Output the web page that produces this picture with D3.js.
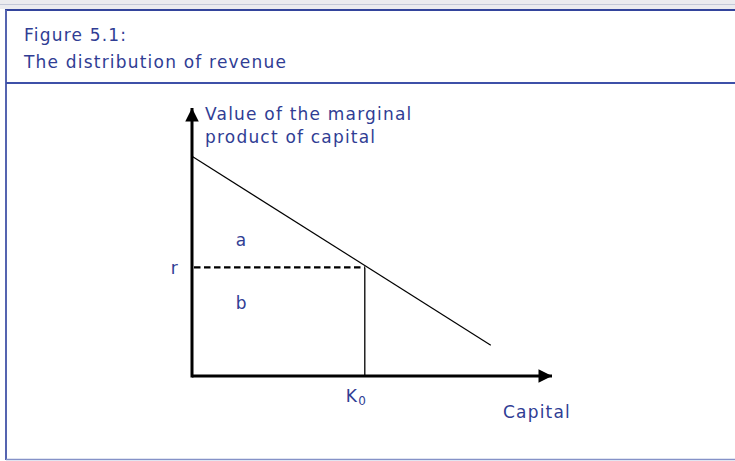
<!DOCTYPE html>
<html>
<head>
<meta charset="utf-8">
<script src="https://cdn.jsdelivr.net/npm/d3@7"></script>
<style>
  body { margin: 0; background: #fff; }
  text { font-family: "DejaVu Sans", Verdana, sans-serif; fill: #303d94; letter-spacing: 1.2px; }
</style>
</head>
<body>
<div id="chart"></div>
<script>
// curve of the value of the marginal product of capital (capital, value)
const mpkCurve = [
  {k: 0, v: 8.2},
  {k: 8.3, v: 1.15}
];
// equilibrium capital and return
const K0 = 4.8;
const rValue = 4.05;
const areaLabels = [
  {label: 'a', k: 1.38, v: 4.85},
  {label: 'b', k: 1.38, v: 2.5}
];
const titleLines = ['Figure 5.1:', 'The distribution of revenue'];
const yAxisTitle = ['Value of the marginal', 'product of capital'];
const xAxisTitle = 'Capital';

const width = 735, height = 461;
const svg = d3.select('#chart').append('svg')
    .attr('width', width)
    .attr('height', height);

// frame
svg.append('rect').attr('x', 0).attr('y', 0).attr('width', width).attr('height', 9).attr('fill', '#ebebef');
svg.append('line').attr('x1', 0).attr('x2', width).attr('y1', 4.5).attr('y2', 4.5).attr('stroke', '#c4c8d8');
svg.append('line').attr('x1', 5).attr('x2', width).attr('y1', 10).attr('y2', 10).attr('stroke', '#33449c').attr('stroke-width', 2);
svg.append('line').attr('x1', 6).attr('x2', 6).attr('y1', 10).attr('y2', 460).attr('stroke', '#5564b0').attr('stroke-width', 2);
svg.append('line').attr('x1', 6).attr('x2', width).attr('y1', 83).attr('y2', 83).attr('stroke', '#3d50a8').attr('stroke-width', 2);
svg.append('line').attr('x1', 6).attr('x2', width).attr('y1', 459.5).attr('y2', 459.5).attr('stroke', '#8592c8').attr('stroke-width', 1.5);

svg.selectAll('.title')
    .data(titleLines)
    .join('text')
    .attr('class', 'title')
    .attr('x', 24)
    .attr('y', (d, i) => 40.5 + i * 27)
    .style('font-size', '17px')
    .text(d => d);

// scales
const xScale = d3.scaleLinear().domain([0, 10]).range([192, 552]);
const yScale = d3.scaleLinear().domain([0, 10]).range([376, 108]);

const defs = svg.append('defs');
defs.append('marker')
    .attr('id', 'arrow')
    .attr('viewBox', '0 0 10 10')
    .attr('refX', 10).attr('refY', 5)
    .attr('markerWidth', 5).attr('markerHeight', 4.5)
    .attr('markerUnits', 'strokeWidth')
    .attr('orient', 'auto')
  .append('path')
    .attr('d', 'M0,0L10,5L0,10Z')
    .attr('fill', '#000');

const chart = svg.append('g');

// axes
chart.append('line')
    .attr('x1', xScale(0)).attr('y1', yScale(0))
    .attr('x2', xScale(10)).attr('y2', yScale(0))
    .attr('stroke', '#000').attr('stroke-width', 3)
    .attr('marker-end', 'url(#arrow)');
chart.append('line')
    .attr('x1', xScale(0)).attr('y1', yScale(0) + 1.5)
    .attr('x2', xScale(0)).attr('y2', yScale(10))
    .attr('stroke', '#000').attr('stroke-width', 3)
    .attr('marker-end', 'url(#arrow)');

// marginal product line
const line = d3.line().x(d => xScale(d.k)).y(d => yScale(d.v));
chart.append('path')
    .datum(mpkCurve)
    .attr('d', line)
    .attr('fill', 'none')
    .attr('stroke', '#000')
    .attr('stroke-width', 1.2);

// r dashed line and K0 vertical
chart.append('line')
    .attr('x1', xScale(0) + 2).attr('x2', xScale(K0))
    .attr('y1', yScale(rValue)).attr('y2', yScale(rValue))
    .attr('stroke', '#000').attr('stroke-width', 2.2)
    .attr('stroke-dasharray', '6.5,3.5');
chart.append('line')
    .attr('x1', xScale(K0)).attr('x2', xScale(K0))
    .attr('y1', yScale(rValue)).attr('y2', yScale(0))
    .attr('stroke', '#000').attr('stroke-width', 1.3);

// labels
chart.selectAll('.area-label')
    .data(areaLabels)
    .join('text')
    .attr('class', 'area-label')
    .attr('x', d => xScale(d.k))
    .attr('y', d => yScale(d.v))
    .attr('text-anchor', 'middle')
    .style('font-size', '17px')
    .text(d => d.label);

chart.append('text')
    .attr('x', xScale(0) - 13)
    .attr('y', yScale(rValue) + 7)
    .attr('text-anchor', 'end')
    .style('font-size', '17px')
    .text('r');

const k0Label = chart.append('text')
    .attr('x', xScale(K0) - 19)
    .attr('y', yScale(0) + 26)
    .style('font-size', '17px');
k0Label.append('tspan').text('K');
k0Label.append('tspan').attr('dy', 3).style('font-size', '12px').text('0');

chart.selectAll('.y-title')
    .data(yAxisTitle)
    .join('text')
    .attr('class', 'y-title')
    .attr('x', xScale(0) + 13)
    .attr('y', (d, i) => 120 + i * 23)
    .style('font-size', '17px')
    .text(d => d);

chart.append('text')
    .attr('x', 503)
    .attr('y', 418)
    .style('font-size', '17px')
    .text(xAxisTitle);
</script>
</body>
</html>
